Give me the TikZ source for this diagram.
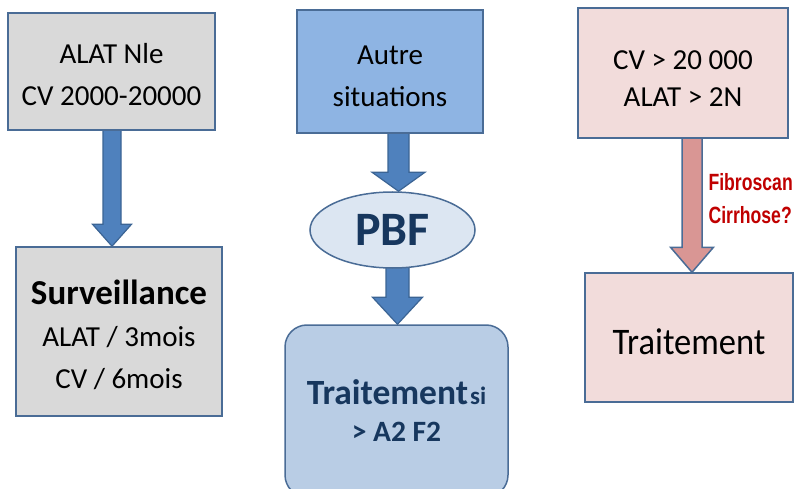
\documentclass[tikz,border=0pt]{standalone}
\usepackage{fontspec}
\setmainfont{Carlito}
\newfontfamily\narrowfont[FakeStretch=0.75]{Liberation Sans}
\newfontfamily\narrowcal[FakeStretch=0.92]{Carlito}
\usetikzlibrary{calc,shapes.geometric,backgrounds}
\definecolor{bordc}{HTML}{4A6C96}
\definecolor{grayfill}{HTML}{D9D9D9}
\definecolor{bluetop}{HTML}{8EB4E3}
\definecolor{ellfill}{HTML}{DCE6F2}
\definecolor{bluebot}{HTML}{B9CDE5}
\definecolor{pinkfill}{HTML}{F2DCDB}
\definecolor{arrblue}{HTML}{4F81BD}
\definecolor{arrblueb}{HTML}{3B6494}
\definecolor{arrpink}{HTML}{D99694}
\definecolor{navy}{HTML}{17375E}
\definecolor{redtxt}{HTML}{C00000}
\newcommand{\mystrut}[1]{\rule{0pt}{#1}}
\newcommand{\myblockarrow}[7]{%
  \draw[#7] ($(#1.south)+(#3-#4,6pt)$) -- ($(#1.south |- #2.north)+(#3-#4,#6)$)
    -- ($(#1.south |- #2.north)+(#3-#5,#6)$) -- ($(#1.south |- #2.north)+(#3,0pt)$)
    -- ($(#1.south |- #2.north)+(#3+#5,#6)$) -- ($(#1.south |- #2.north)+(#3+#4,#6)$)
    -- ($(#1.south)+(#3+#4,6pt)$) -- cycle;}
\tikzset{
  box/.style={draw=bordc, line width=1.5pt, align=center, inner sep=0pt},
  maintext/.style={font=\fontsize{29}{42}\selectfont},
  bluearrow/.style={fill=arrblue, draw=arrblueb, line width=1.2pt, line join=miter},
  pinkarrow/.style={fill=arrpink, draw=bordc, line width=1.5pt, line join=miter}
}
\begin{document}
\begin{tikzpicture}[x=1pt,y=-1pt]
\useasboundingbox (0,0) rectangle (795,489);
\clip (0,0) rectangle (795,489);
% left column
\node[box, maintext, fill=grayfill, minimum width=207pt, minimum height=117pt] (lt) at (111.5,71.5)
  {\mystrut{26pt}ALAT Nle\\CV 2000-20000};
\node[box, maintext, fill=grayfill, minimum width=206pt, minimum height=169pt] (lb) at (119,331.5)
  {\mystrut{31.5pt}{\fontsize{35}{43}\selectfont\bfseries Surveillance}\\ALAT / 3mois\\CV / 6mois};
% middle column
\node[box, maintext, fill=bluetop, minimum width=186pt, minimum height=123pt] (mt) at (390,71.5)
  {\mystrut{28.5pt}Autre\\situations};
\node[box, draw=bordc, fill=ellfill, ellipse, minimum width=165pt, minimum height=76pt,
  text=navy, font=\fontsize{48}{55}\selectfont\bfseries] (pbf) at (392.5,230) {PBF};
\node[box, fill=bluebot, rounded corners=22pt, minimum width=223pt, minimum height=172pt,
  text=navy, font=\fontsize{29.5}{37}\selectfont\bfseries] (mb) at (396.5,411)
  {{\fontsize{35.5}{37}\selectfont Traitement}\hspace{2pt}{\fontsize{25}{30}\selectfont si}\\{>} A2 F2};
% right column
\node[box, fill=pinkfill, minimum width=210pt, minimum height=130pt,
  font=\fontsize{29}{37}\selectfont] (rt) at (683,73)
  {\mystrut{30.5pt}CV {>} 20 000\\ALAT {>} 2N};
\node[box, fill=pinkfill, minimum width=208pt, minimum height=129pt,
  font=\narrowcal\fontsize{37.5}{42}\selectfont] (rb) at (689,337.5)
  {\mystrut{35pt}Traitement};
\node[text=redtxt, font=\narrowfont\bfseries\fontsize{23.5}{33}\selectfont, align=left, anchor=west]
  (fib) at (705,199) {Fibroscan\\Cirrhose?};
% arrows
\begin{scope}[on background layer]
\myblockarrow{lt}{lb}{0.5pt}{9pt}{19.5pt}{22pt}{bluearrow}
\myblockarrow{mt}{pbf}{8.5pt}{10.5pt}{26.5pt}{19pt}{bluearrow}
\myblockarrow{pbf}{mb}{5pt}{11.5pt}{25pt}{27pt}{bluearrow}
\myblockarrow{rt}{rb}{9pt}{10pt}{21.5pt}{25pt}{pinkarrow}
\end{scope}
\end{tikzpicture}
\end{document}
